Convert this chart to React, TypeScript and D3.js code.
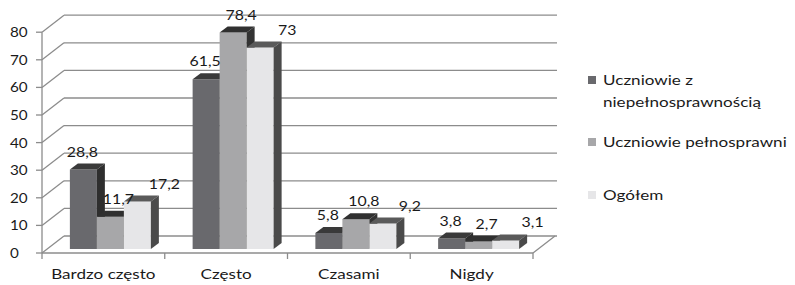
import React, { useEffect, useRef } from 'react';
import * as d3 from 'd3';

const categories = ['Bardzo często', 'Często', 'Czasami', 'Nigdy'];
const seriesNames = ['Uczniowie z niepełnosprawnością', 'Uczniowie pełnosprawni', 'Ogółem'];
const disabledValues = [28.8, 61.5, 5.8, 3.8];
const ableValues = [11.7, 78.4, 10.8, 2.7];
const totalValues = [17.2, 73, 9.2, 3.1];
const yTicks = [0, 10, 20, 30, 40, 50, 60, 70, 80];
const legendLines = [['Uczniowie z', 'niepełnosprawnością'], ['Uczniowie pełnosprawni'], ['Ogółem']];

const W = 795;
const H = 285;
const FONT = 'Lato, "Open Sans", sans-serif';
const STRETCH = 'scale(1.22,1)';

// front / back faces of each series: front, top, side
const faces = [
  { front: '#69696d', top: '#3a3a3a', side: '#2e2e2e' },
  { front: '#a7a7a9', top: '#303030', side: '#333333' },
  { front: '#e6e6e8', top: '#5a5a5a', side: '#4a4a4a' },
];
const labelShift = [-1, 8, 27];

export default function App() {
  const svgRef = useRef<SVGSVGElement>(null);

  useEffect(() => {
    const svg = d3.select(svgRef.current);
    svg.selectAll('*').remove();

    const values = [disabledValues, ableValues, totalValues];
    const depth = { dx: 22, dy: 17 }; // wall depth
    const bar = { dx: 8, dy: 6, w: 27 }; // bar depth and width
    const frontBase = 253;
    const barBase = 249;
    const pxPer = 2.76;

    const x0 = d3.scaleBand<string>().domain(categories).range([42, 533]).padding(0);
    const x1 = d3.scaleBand<number>().domain([0, 1, 2]).range([0, bar.w * 3]).padding(0);
    const yFront = d3.scaleLinear().domain([0, 80]).range([frontBase, frontBase - 80 * pxPer]);
    const yBar = d3.scaleLinear().domain([0, 80]).range([barBase, barBase - 80 * pxPer]);
    const yBack = (v: number) => yFront(v) - depth.dy;
    const gridColor = '#8c8c8c';

    const grid = svg.append('g').attr('stroke', gridColor).attr('stroke-width', 1.3).attr('fill', 'none');
    // back wall horizontal lines + side wall diagonals
    yTicks.forEach(t => {
      grid.append('line').attr('x1', 42 + depth.dx).attr('x2', 557).attr('y1', yBack(t)).attr('y2', yBack(t));
      grid.append('line').attr('x1', 42).attr('y1', yFront(t)).attr('x2', 42 + depth.dx).attr('y2', yBack(t));
      grid.append('line').attr('x1', 36).attr('x2', 42).attr('y1', yFront(t)).attr('y2', yFront(t));
    });
    // y axis and floor
    grid.append('line').attr('x1', 42).attr('x2', 42).attr('y1', yFront(80)).attr('y2', frontBase);
    grid.append('line').attr('x1', 42).attr('x2', 533).attr('y1', frontBase).attr('y2', frontBase);
    grid.append('line').attr('x1', 533).attr('y1', frontBase).attr('x2', 533 + depth.dx).attr('y2', frontBase - depth.dy);
    const catEdges = categories.map(c => x0(c) as number).concat([533]);
    catEdges.forEach(xe => {
      grid.append('line').attr('x1', xe).attr('x2', xe).attr('y1', frontBase).attr('y2', frontBase + 6);
    });

    // y tick labels
    svg.append('g').selectAll('text').data(yTicks).join('text')
      .attr('transform', d => `translate(10,${yFront(d) + 5}) ${STRETCH}`)
      .attr('font-family', FONT).attr('font-size', 12.5).attr('fill', '#1a1a1a')
      .text(d => d);

    // bars
    const bars = svg.append('g');
    categories.forEach((c, ci) => {
      const gx = (x0(c) as number) + (x0.bandwidth() - bar.w * 3) / 2 + 7;
      values.forEach((vals, si) => {
        const v = vals[ci];
        const x = gx + (x1(si) as number);
        const w = x1.bandwidth();
        const yt = yBar(v);
        const f = faces[si];
        bars.append('rect').attr('x', x).attr('y', yt).attr('width', w).attr('height', barBase - yt).attr('fill', f.front);
        bars.append('path').attr('fill', f.top)
          .attr('d', `M${x},${yt}L${x + bar.dx},${yt - bar.dy}L${x + w + bar.dx},${yt - bar.dy}L${x + w},${yt}Z`);
        bars.append('path').attr('fill', f.side)
          .attr('d', `M${x + w},${yt}L${x + w + bar.dx},${yt - bar.dy}L${x + w + bar.dx},${barBase - bar.dy}L${x + w},${barBase}Z`);
      });
    });

    // value labels
    const labels = svg.append('g').attr('font-family', FONT).attr('font-size', 13).attr('fill', '#1a1a1a').attr('text-anchor', 'middle');
    categories.forEach((c, ci) => {
      const gx = (x0(c) as number) + (x0.bandwidth() - bar.w * 3) / 2 + 7;
      values.forEach((vals, si) => {
        const v = vals[ci];
        const cx = gx + (x1(si) as number) + x1.bandwidth() / 2 + labelShift[si];
        labels.append('text')
          .attr('transform', `translate(${cx},${yBar(v) - 13}) ${STRETCH}`)
          .text(String(v).replace('.', ','));
      });
    });

    // category labels
    svg.append('g').selectAll('text').data(categories).join('text')
      .attr('transform', d => `translate(${(x0(d) as number) + x0.bandwidth() / 2},279) ${STRETCH}`)
      .attr('text-anchor', 'middle').attr('font-family', FONT).attr('font-size', 14).attr('fill', '#1a1a1a')
      .text(d => d);

    // legend
    const legendY = [80, 142, 195];
    const legend = svg.append('g').attr('font-family', FONT).attr('font-size', 14).attr('fill', '#1a1a1a');
    seriesNames.forEach((name, i) => {
      const item = legend.append('g').attr('data-name', name);
      item.append('rect').attr('x', 588).attr('y', legendY[i] - 4).attr('width', 8).attr('height', 8).attr('fill', faces[i].front);
      legendLines[i].forEach((line, li) => {
        item.append('text')
          .attr('transform', `translate(603,${legendY[i] + 5 + li * 22}) ${STRETCH}`)
          .text(line);
      });
    });
  }, []);

  return (
    <div style={{ width: W, height: H, background: '#fff' }}>
      <svg ref={svgRef} width={W} height={H} style={{ display: 'block', position: 'absolute', left: 0, top: 0 }} />
    </div>
  );
}
